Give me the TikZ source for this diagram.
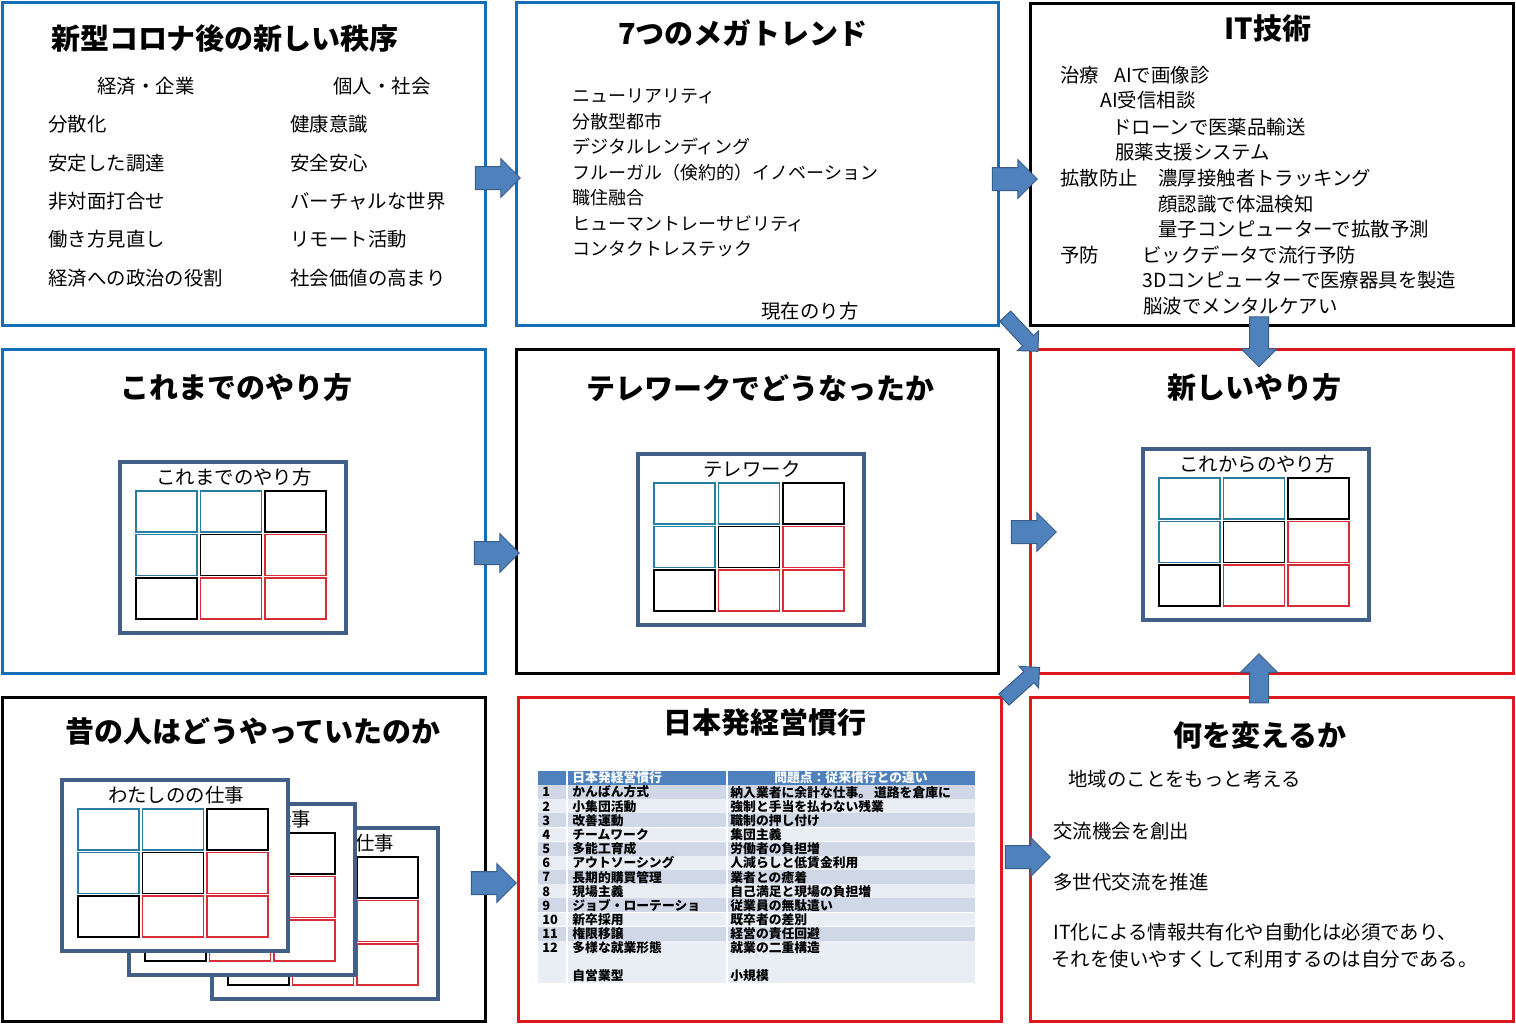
\documentclass[tikz,border=0pt]{standalone}
\usepackage{fontspec}
\setmainfont{Noto Sans CJK JP}
\usepackage{xcolor}
\usepackage{tikz}
\usetikzlibrary{calc}
\usetikzlibrary{shapes.arrows}

\definecolor{panelblue}{RGB}{20,110,185}
\definecolor{panelred}{RGB}{220,25,30}
\definecolor{slate}{RGB}{65,95,135}
\definecolor{cellteal}{RGB}{40,125,160}
\definecolor{cellred}{RGB}{215,45,55}
\definecolor{arrowfill}{RGB}{79,129,189}
\definecolor{arrowline}{RGB}{56,93,138}
\definecolor{tabhead}{RGB}{79,129,189}
\definecolor{tabdark}{RGB}{208,216,232}
\definecolor{tablight}{RGB}{233,237,244}

\tikzset{
  panel/.style={line width=1.5pt},
  heading/.style={font=\bfseries\fontsize{14.5}{17}\selectfont, inner sep=0pt},
  item/.style={font=\fontsize{9.7}{11}\selectfont, anchor=west, inner sep=0pt},
  trend/.style={font=\fontsize{9}{11}\selectfont, anchor=west, inner sep=0pt},
  tab/.style={font=\bfseries\fontsize{6.4}{7}\selectfont, anchor=west, inner sep=0pt},
  blockarrow/.style={single arrow, fill=arrowfill, draw=arrowline, line width=0.5pt,
    inner xsep=0pt, inner ysep=5.5pt, minimum height=22.5pt,
    single arrow head extend=4pt, single arrow head indent=0pt},
  thinarrow/.style={blockarrow, minimum height=24pt, inner ysep=3.5pt,
    single arrow head extend=3.5pt},
}

% one slide: name, top-left x, top-left y, label
\newcommand\slidecard[4]{%
  \draw[slate, line width=1.75pt, fill=white] (#2,#3) rectangle +(226,171);
  \node[font=\fontsize{9.7}{11}\selectfont, inner sep=0pt] (#1) at ({#2+114},{#3+15}) {#4};
  \foreach \c/\r/\col in {0/0/cellteal, 1/0/cellteal, 2/0/black,
                          0/1/cellteal, 1/1/black, 2/1/cellred,
                          0/2/black, 1/2/cellred, 2/2/cellred}
    \draw[\col, line width=0.55pt] ({#2+16+\c*64.5},{#3+29+\r*43.5}) rectangle +(61,41);
}

\begin{document}
\begin{tikzpicture}[x=0.5pt, y=-0.5pt]
\useasboundingbox (0,0) rectangle (1516,1025);

% panels
\draw[panel, panelblue] (2,2) rectangle (485,325);
\draw[panel, panelblue] (516,2) rectangle (998,325);
\draw[panel, black] (1030,3) rectangle (1513,325);
\draw[panel, panelblue] (2,349) rectangle (485,673);
\draw[panel, black] (516,349) rectangle (998,673);
\draw[panel, panelred] (1030,349) rectangle (1513,673);
\draw[panel, black] (2,697) rectangle (485,1021);
\draw[panel, panelred] (518,697) rectangle (1001,1021);
\draw[panel, panelred] (1030,697) rectangle (1513,1021);

% top row
\node[heading] (t1) at (225,38) {新型コロナ後の新しい秩序};
\node[item, anchor=center] (h1) at (146,86) {経済・企業};
\node[item, anchor=center] (h2) at (382,86) {個人・社会};
\foreach \a/\b [count=\i] in {分散化/健康意識, 安定した調達/安全安心,
    非対面打合せ/バーチャルな世界, 働き方見直し/リモート活動,
    経済への政治の役割/社会価値の高まり}{
  \node[item] (e\i) at (48,{86+\i*38.4}) {\a};
  \node[item] (s\i) at (290,{86+\i*38.4}) {\b};
}

\node[heading] (t2) at (743,33) {7つのメガトレンド};
\foreach \a [count=\i] in {ニューリアリティ, 分散型都市, デジタルレンディング,
    フルーガル（倹約的）イノベーション, 職住融合, ヒューマントレーサビリティ,
    コンタクトレステック}
  \node[trend] (m\i) at (572,{70.5+\i*25.5}) {\a};
\node[item, anchor=center] (now) at (810,311) {現在のり方};

\node[heading] (t3) at (1268,28) {IT技術};
\node[item] (it1) at (1060,75) {治療};
\node[item] (it1b) at (1114,75) {AIで画像診};
\node[item] (it2) at (1100,100) {AI受信相談};
\node[item] (it3) at (1112,127) {ドローンで医薬品輸送};
\node[item] (it4) at (1115,152) {服薬支援システム};
\node[item] (it5) at (1060,178) {拡散防止};
\node[item] (it5b) at (1158,178) {濃厚接触者トラッキング};
\node[item] (it6) at (1158,204) {顔認識で体温検知};
\node[item] (it7) at (1158,229) {量子コンピューターで拡散予測};
\node[item] (it8) at (1060,255) {予防};
\node[item] (it8b) at (1142,255) {ビックデータで流行予防};
\node[item] (it9) at (1142,280) {3Dコンピューターで医療器具を製造};
\node[item] (it10) at (1143,306) {脳波でメンタルケアい};

% middle row
\node[heading] (t4) at (236,388) {これまでのやり方};
\slidecard{old}{120}{462}{これまでのやり方}
\node[heading] (t5) at (760,388) {テレワークでどうなったか};
\slidecard{tele}{638}{454}{テレワーク}
\node[heading] (t6) at (1254,388) {新しいやり方};
\slidecard{new}{1143}{449}{これからのやり方}

% bottom row
\node[heading] (t7) at (253,731) {昔の人はどうやっていたのか};
\slidecard{job3}{212}{828}{わたしのの仕事}
\slidecard{job2}{129}{804}{わたしのの仕事}
\slidecard{job1}{62}{780}{わたしのの仕事}

\node[heading] (t8) at (765,722) {日本発経営慣行};
\fill[tabhead] (538,771) rectangle (975,785);
\foreach \i in {1,...,11}{
  \pgfmathsetmacro\shade{isodd(\i) ? "tabdark" : "tablight"}
  \fill[\shade] (538,{785+(\i-1)*14.18}) rectangle (975,{785+\i*14.18});
  \draw[white, line width=0.4pt] (538,{785+\i*14.18}) -- (975,{785+\i*14.18});
}
\fill[tablight] (538,941) rectangle (975,983);
\draw[white, line width=0.8pt] (567,771) -- (567,983);
\draw[white, line width=0.8pt] (727,771) -- (727,983);
\node[tab, text=white] (th1) at (572,778) {日本発経営慣行};
\node[tab, text=white, anchor=center] (th2) at (851,778) {問題点：従来慣行との違い};
\foreach \a/\b [count=\i] in {かんばん方式/納入業者に余計な仕事。 道路を倉庫に,
    小集団活動/強制と手当を払わない残業, 改善運動/職制の押し付け,
    チームワーク/集団主義, 多能工育成/労働者の負担増,
    アウトソーシング/人減らしと低賃金利用, 長期的購買管理/業者との癒着,
    現場主義/自己満足と現場の負担増, ジョブ・ローテーショ/従業員の無駄遣い,
    新卒採用/既卒者の差別, 権限移譲/経営の責任回避}{
  \node[tab] (n\i) at (542,{785+(\i-0.5)*14.18}) {\i};
  \node[tab] (ka\i) at (572,{785+(\i-0.5)*14.18}) {\a};
  \node[tab] (kb\i) at (730,{785+(\i-0.5)*14.18}) {\b};
}
\node[tab] (n12) at (542,948) {12};
\node[tab] (ka12) at (572,948) {多様な就業形態};
\node[tab] (kb12) at (730,948) {就業の二重構造};
\node[tab] (ka13) at (572,976) {自営業型};
\node[tab] (kb13) at (730,976) {小規模};

\node[heading] (t9) at (1260,735) {何を変えるか};
\node[item] (c1) at (1068,779) {地域のことをもっと考える};
\node[item] (c2) at (1053,831) {交流機会を創出};
\node[item] (c3) at (1053,882) {多世代交流を推進};
\node[item] (c4) at (1053,932) {IT化による情報共有化や自動化は必須であり、};
\node[item] (c5) at (1051,959) {それを使いやすくして利用するのは自分である。};

% block arrows
\node[blockarrow] (a1) at (492,178) {};
\node[blockarrow] (a2) at (1009,179) {};
\node[thinarrow, rotate=-47] (a3) at (1019,331) {};
\node[blockarrow, rotate=-90, minimum height=25pt, inner ysep=4.5pt,
  single arrow head extend=4.25pt] (a4) at (1259,337) {};
\node[blockarrow] (a5) at (491,553) {};
\node[blockarrow] (a6) at (1028,532) {};
\node[blockarrow] (a7) at (488,883) {};
\node[blockarrow] (a8) at (1022,857) {};
\node[thinarrow, rotate=42] (a9) at (1019,686) {};
\node[blockarrow, rotate=90, minimum height=24.5pt, inner ysep=4.5pt,
  single arrow head extend=4.5pt] (a10) at (1259,683) {};
\end{tikzpicture}
\end{document}
